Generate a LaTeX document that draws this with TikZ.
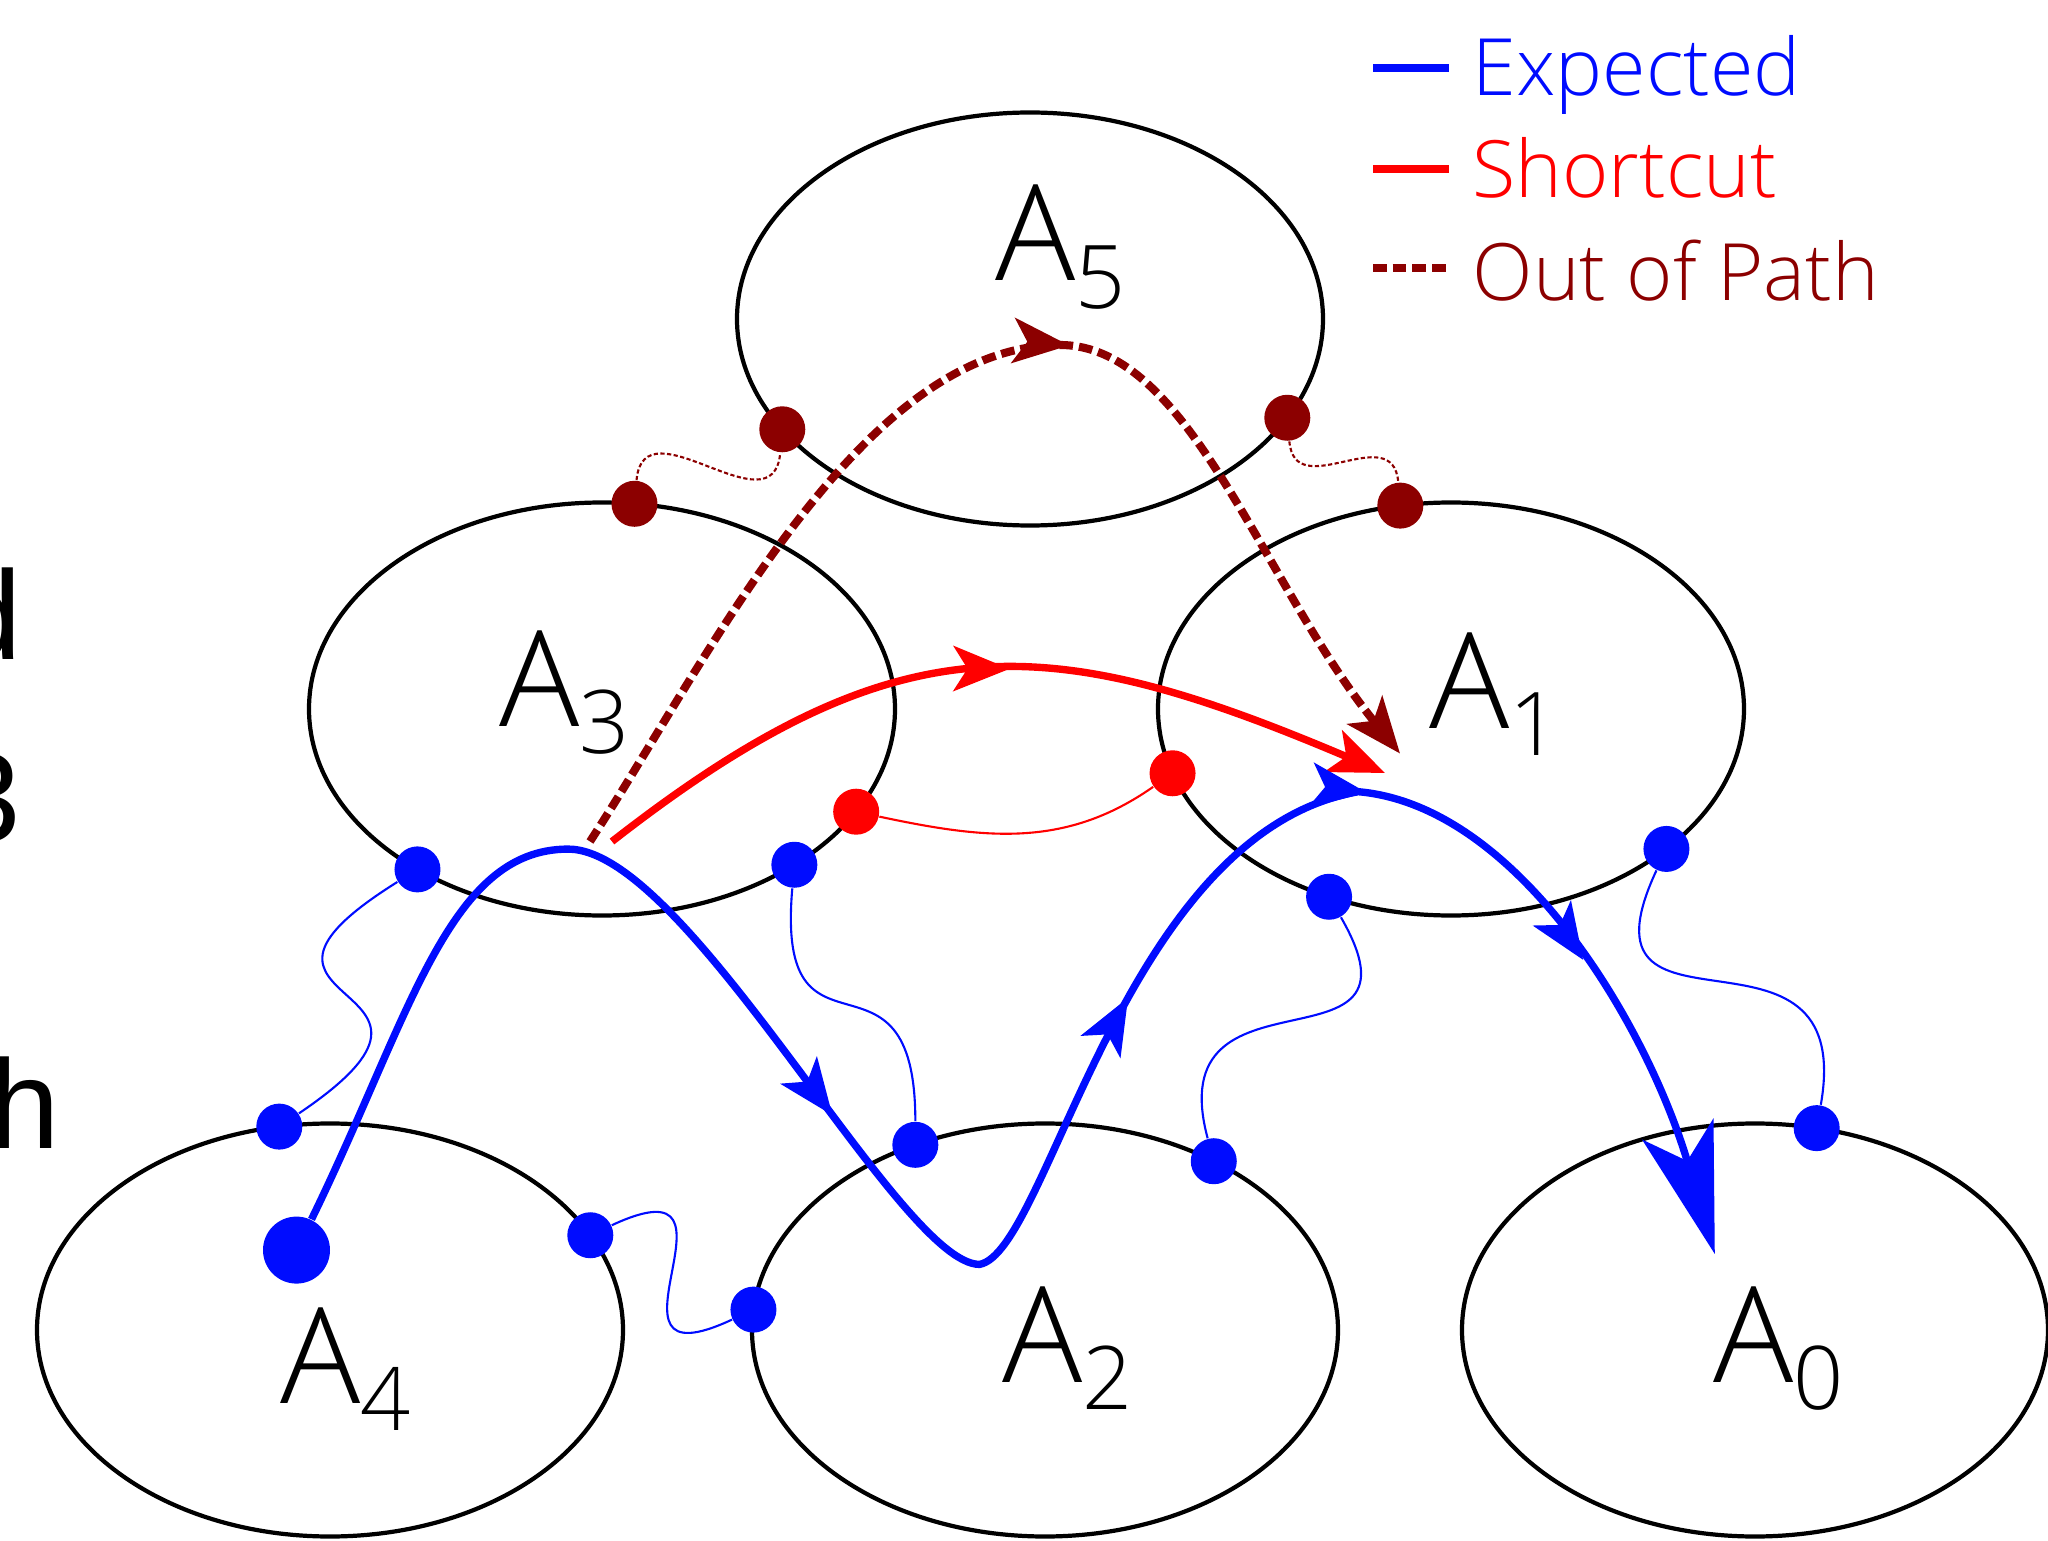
\documentclass[tikz,border=0pt]{standalone}
\usepackage{fontspec}
\setmainfont{Open Sans Light}
\newfontfamily\cutfont{Liberation Sans}
\usetikzlibrary{arrows.meta,decorations.markings,shapes.geometric}

\definecolor{expblue}{RGB}{0,12,255}
\definecolor{cutred}{RGB}{255,0,0}
\definecolor{outred}{RGB}{140,0,0}

\newcommand{\subidx}[1]{\raisebox{-0.27cm}{\fontsize{25}{25}\selectfont #1}}

\begin{document}
\begin{tikzpicture}[
  region/.style={draw,ellipse,line width=1.2pt,minimum width=5.86cm,minimum height=4.13cm,inner sep=0pt,outer sep=0pt},
  lbl/.style={anchor=base west,inner sep=0pt,font=\fontsize{38}{40}\selectfont},
  cut/.style={anchor=base east,inner sep=0pt,font=\cutfont\fontsize{36}{36}\selectfont},
  legtext/.style={anchor=base west,inner sep=0pt,font=\fontsize{22.5}{24}\selectfont},
  dotb/.style={circle,fill=expblue,minimum size=0.46cm,inner sep=0pt},
  dotr/.style={circle,fill=cutred,minimum size=0.46cm,inner sep=0pt},
  doto/.style={circle,fill=outred,minimum size=0.46cm,inner sep=0pt},
  thinb/.style={expblue,line width=0.6pt},
  thinr/.style={cutred,line width=0.6pt},
  thino/.style={outred,line width=0.6pt,dash pattern=on 1.2pt off 0.7pt},
  expected/.style={expblue,line width=2.1pt},
  shortcut/.style={cutred,line width=2.1pt},
  outpath/.style={outred,line width=2.3pt,dash pattern=on 3.9pt off 1.7pt},
  smalltip/.tip={Stealth[length=5.6mm,width=4.5mm,inset=1.4mm]},
  bigtip/.tip={Stealth[length=13mm,width=7.4mm,inset=3.3mm]}
]
  \useasboundingbox (0,0) rectangle (20.48,15.40);

  % cut-off letters at the left edge
  \node[cut] (cutd) at (0.23,8.80) {d};
  \node[cut] (cut3) at (0.22,6.98) {3};
  \node[cut] (cuth) at (0.61,3.92) {h};

  % regions
  \node[region] (A5) at (10.30,12.21) {};
  \node[region] (A3) at (6.02,8.31) {};
  \node[region] (A1) at (14.51,8.31) {};
  \node[region] (A4) at (3.30,2.10) {};
  \node[region] (A2) at (10.45,2.10) {};
  \node[region] (A0) at (17.55,2.10) {};

  \node[lbl] (lA5) at (9.95,12.59) {A\subidx{5}};
  \node[lbl] (lA3) at (4.99,8.14) {A\subidx{3}};
  \node[lbl] (lA1) at (14.29,8.12) {A\subidx{1}};
  \node[lbl] (lA4) at (2.80,1.37) {A\subidx{4}};
  \node[lbl] (lA2) at (10.02,1.58) {A\subidx{2}};
  \node[lbl] (lA0) at (17.13,1.58) {A\subidx{0}};

  % border points
  \node[doto] (oA5l) at (A5.204) {};
  \node[doto] (oA3t) at (A3.81.5) {};
  \node[doto] (oA5r) at (A5.-21) {};
  \node[doto] (oA1t) at (A1.104) {};
  \node[dotr] (sA3) at (A3.-22.7) {};
  \node[dotr] (sA1) at (A1.193.8) {};
  \node[dotb] (eA3l) at (A3.221.6) {};
  \node[dotb] (eA3r) at (A3.-39.2) {};
  \node[dotb] (eA1l) at (A1.237.7) {};
  \node[dotb] (eA1r) at (A1.-33.4) {};
  \node[dotb] (eA4t) at (A4.104.4) {};
  \node[dotb] (eA4r) at (A4.20.8) {};
  \node[dotb] (eA2l) at (A2.176.4) {};
  \node[dotb] (eA2t) at (A2.125.7) {};
  \node[dotb] (eA2r) at (A2.45) {};
  \node[dotb] (eA0t) at (A0.73.3) {};
  \node[dotb,minimum size=0.67cm] (start) at (2.965,2.899) {};

  % links between regions
  \draw[thino] (oA3t) to[out=85,in=-95,looseness=1.4] (oA5l);
  \draw[thino] (oA5r) to[out=-85,in=95,looseness=1.4] (oA1t);
  \draw[thinr] (sA3) to[out=-12,in=215] (sA1);
  \draw[thinb] (eA3l) to[out=212,in=34,looseness=2.5] (eA4t);
  \draw[thinb] (eA3r) to[out=-95,in=90,looseness=1.9] (eA2t);
  \draw[thinb] (eA1l) to[out=-60,in=105,looseness=1.9] (eA2r);
  \draw[thinb] (eA1r) to[out=-115,in=80,looseness=1.9] (eA0t);
  \draw[thinb] (eA4r) to[out=25,in=205,looseness=2.8] (eA2l);

  % paths
  \coordinate (top3) at (5.681,6.909);
  \coordinate (low2) at (9.795,2.756);
  \coordinate (top1) at (13.582,7.483);
  \coordinate (endA0) at (17.148,2.860);
  \coordinate (sc0) at (6.12,6.985);
  \coordinate (sc1) at (13.85,7.67);
  \coordinate (op0) at (5.90,6.985);
  \coordinate (op5) at (10.60,11.95);
  \coordinate (op1) at (14.00,7.865);

  \draw[outpath,-{smalltip},postaction={decorate},
    decoration={markings,mark=at position 0.572 with {\arrow{smalltip}}}]
    (op0) .. controls +(57:2.2) and +(180:2.0) .. (op5)
    .. controls +(0:1.3) and +(129:2.2) .. (op1);
  \draw[shortcut,-{smalltip},postaction={decorate},
    decoration={markings,mark=at position 0.53 with {\arrow{smalltip}}}]
    (sc0) to[out=38,in=157,looseness=1.2] (sc1);
  \draw[expected,-{bigtip},postaction={decorate},
    decoration={markings,
      mark=at position 0.37 with {\arrow{smalltip}},
      mark=at position 0.596 with {\arrow{smalltip}},
      mark=at position 0.738 with {\arrow{smalltip}},
      mark=at position 0.86 with {\arrow{smalltip}}}]
    (start) .. controls +(64:2.6) and +(180:1.2) .. (top3)
    .. controls +(0:1.2) and +(180:0.8) .. (low2)
    .. controls +(10:0.7) and +(190:2.4) .. (top1)
    .. controls +(-5:1.6) and +(106.5:2.4) .. (endA0);

  % legend
  \coordinate (lgE0) at (13.73,14.72);
  \coordinate (lgE1) at (14.49,14.72);
  \coordinate (lgS0) at (13.73,13.71);
  \coordinate (lgS1) at (14.49,13.71);
  \coordinate (lgO0) at (13.73,12.72);
  \coordinate (lgO1) at (14.49,12.72);
  \draw[expected,line width=2.4pt] (lgE0) -- (lgE1);
  \draw[shortcut,line width=2.4pt] (lgS0) -- (lgS1);
  \draw[outpath,line width=2.4pt] (lgO0) -- (lgO1);
  \node[legtext,text=expblue] (lgE) at (14.72,14.44) {Expected};
  \node[legtext,text=cutred] (lgS) at (14.72,13.42) {Shortcut};
  \node[legtext,text=outred] (lgO) at (14.72,12.39) {Out of Path};
\end{tikzpicture}
\end{document}
